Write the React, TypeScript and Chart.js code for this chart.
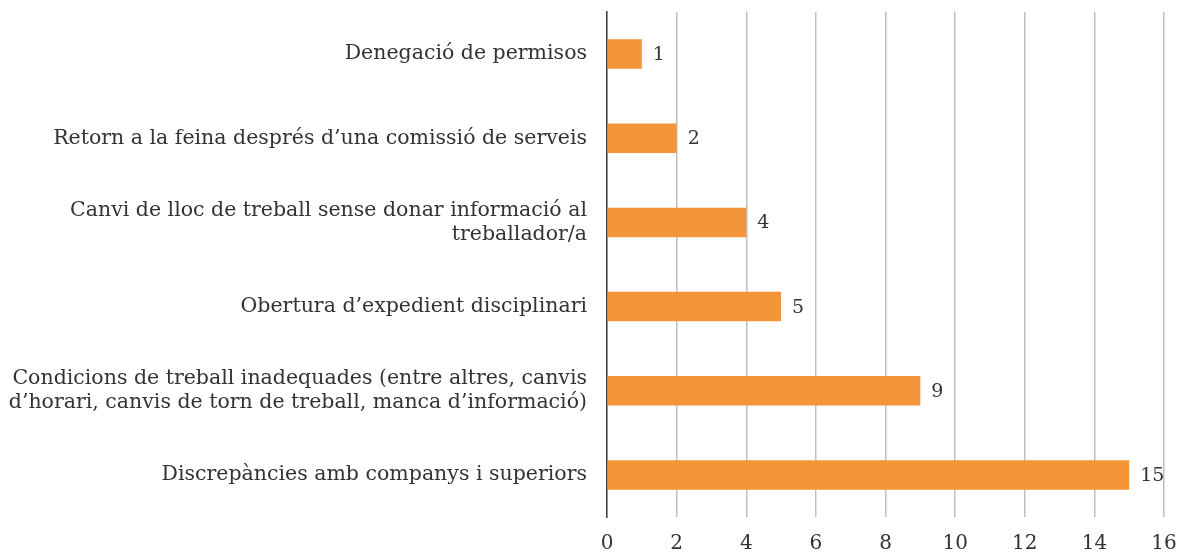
import React, { useEffect, useRef } from "react";
import { Chart, registerables } from "chart.js";

Chart.register(...registerables);

const categories: (string | string[])[] = [
  "Denegació de permisos",
  "Retorn a la feina després d\u2019una comissió de serveis",
  ["Canvi de lloc de treball sense donar informació al", "treballador/a"],
  "Obertura d\u2019expedient disciplinari",
  [
    "Condicions de treball inadequades (entre altres, canvis",
    "d\u2019horari, canvis de torn de treball, manca d\u2019informació)",
  ],
  "Discrepàncies amb companys i superiors",
];
const values: number[] = [1, 2, 4, 5, 9, 15];
const xMin = 0;
const xMax = 16;
const xStep = 2;

const FONT = "'DejaVu Serif', serif";

const valueLabels = {
  id: "valueLabels",
  afterDatasetsDraw(chart: any) {
    const ctx = chart.ctx;
    const meta = chart.getDatasetMeta(0);
    ctx.save();
    ctx.font = `19px ${FONT}`;
    ctx.fillStyle = "#333333";
    ctx.textAlign = "left";
    ctx.textBaseline = "middle";
    meta.data.forEach((bar: any, i: number) => {
      ctx.fillText(String(values[i]), bar.x + 11, bar.y + 1);
    });
    ctx.restore();
  },
};

export default function App() {
  const ref = useRef<HTMLCanvasElement>(null);
  useEffect(() => {
    if (!ref.current) return;
    const chart = new Chart(ref.current, {
      type: "bar",
      data: {
        labels: categories,
        datasets: [
          {
            data: values,
            backgroundColor: "#F5953A",
            borderWidth: 0,
            barPercentage: 0.7,
            categoryPercentage: 0.5,
          },
        ],
      },
      options: {
        indexAxis: "y",
        animation: false,
        responsive: false,
        maintainAspectRatio: false,
        layout: { padding: { top: 12, right: 15, bottom: 0, left: 0 } },
        plugins: {
          legend: { display: false },
          tooltip: { enabled: false },
        },
        scales: {
          x: {
            min: xMin,
            max: xMax,
            ticks: {
              stepSize: xStep,
              color: "#333333",
              font: { family: FONT, size: 20 },
              padding: 15,
            },
            grid: {
              color: "#BFBFBF",
              lineWidth: 1.5,
              drawTicks: false,
            },
            border: { display: false },
            afterFit: (s: any) => {
              s.height = 37;
              s.paddingLeft = 0;
              s.paddingRight = 0;
            },
          },
          y: {
            ticks: {
              color: "#333333",
              font: { family: FONT, size: 20.5, lineHeight: 1.17 },
              padding: 20,
            },
            grid: { display: false, drawTicks: false },
            border: { display: true, color: "#404040", width: 1.5 },
            afterFit: (s: any) => {
              s.width = 607;
              s.paddingTop = 0;
              s.paddingBottom = 0;
            },
          },
        },
      },
      plugins: [valueLabels],
    });
    return () => chart.destroy();
  }, []);
  return (
    <div style={{ position: "fixed", left: 0, top: 0, width: 1179, height: 554, background: "#fff" }}>
      <canvas ref={ref} width={1179} height={554} style={{ display: "block" }} />
    </div>
  );
}
